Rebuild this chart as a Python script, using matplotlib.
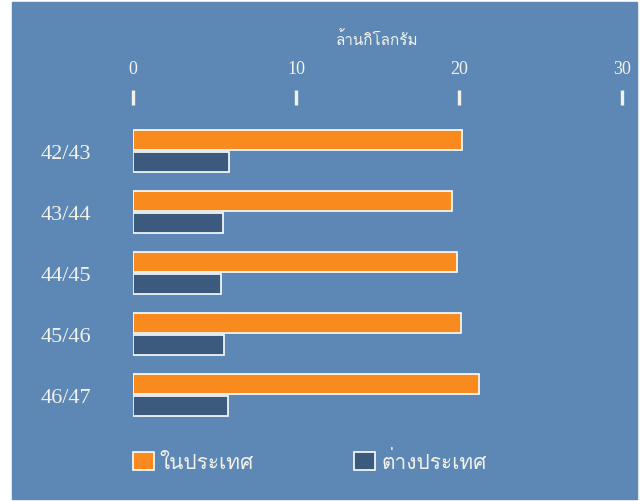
import matplotlib
matplotlib.use("Agg")
import matplotlib.pyplot as plt
from matplotlib import font_manager
from matplotlib.ft2font import FT2Font
from matplotlib.patches import Patch

# data (million kg)
years = ["42/43", "43/44", "44/45", "45/46", "46/47"]
domestic = [20.2, 19.6, 19.9, 20.1, 21.2]
foreign = [5.9, 5.5, 5.4, 5.6, 5.8]
x_ticks = [0, 10, 20, 30]

unit_label = "ล้านกิโลกรัม"
legend_labels = ["ในประเทศ", "ต่างประเทศ"]

bg = "#5d88b6"
orange = "#f98a1d"
navy = "#3c5a7e"
txt = "#f2f2ea"


def find_thai_font():
    names = []
    for f in font_manager.fontManager.ttflist:
        try:
            if FT2Font(f.fname).get_char_index(ord("ก")) != 0:
                names.append(f.name)
        except Exception:
            pass
    return names[0] if names else "DejaVu Sans"


thai = find_thai_font()
plt.rcParams["font.family"] = [thai, "DejaVu Sans"]

fig = plt.figure(figsize=(6.4, 5.02), dpi=100, facecolor="white")
# blue panel
fig.patches.append(plt.Rectangle((12 / 640, 2 / 502), 625 / 640, 497 / 502,
                                 transform=fig.transFigure, color=bg, zorder=-5))

ax = fig.add_axes([133 / 640, 1 - 440 / 502, 489 / 640, 334 / 502])
ax.set_facecolor("none")
ax.set_zorder(2)

h = 0.33
ypos = list(range(len(years)))
ax.barh([y - h / 2 - 0.015 for y in ypos], domestic, height=h, color=orange,
        edgecolor="white", linewidth=1.2)
ax.barh([y + h / 2 + 0.015 for y in ypos], foreign, height=h, color=navy,
        edgecolor="white", linewidth=1.2)

ax.set_xlim(0, 30)
ax.set_ylim((440 - 152) / 61, (106 - 152) / 61)
for s in ax.spines.values():
    s.set_visible(False)

ax.xaxis.tick_top()
ax.set_xticks(x_ticks)
ax.set_xticklabels([str(t) for t in x_ticks], family="Liberation Serif",
                   fontsize=13, color=txt)
ax.tick_params(axis="x", direction="out", length=11, width=2.4, color=txt,
               pad=9)
ax.set_xlabel(unit_label, fontsize=11, color=txt, labelpad=12)
ax.xaxis.set_label_position("top")

ax.set_yticks(ypos)
ax.set_yticklabels(years, family="Liberation Serif", fontsize=16, color=txt)
ax.tick_params(axis="y", length=0, pad=30)

handles = [Patch(facecolor=orange, edgecolor="white", linewidth=1.2),
           Patch(facecolor=navy, edgecolor="white", linewidth=1.2)]
leg = fig.legend(handles, legend_labels, loc="center left",
                 bbox_to_anchor=(114 / 640, 1 - 462 / 502), ncol=2,
                 frameon=False, handlelength=1.0, handleheight=1.0,
                 handletextpad=0.3, columnspacing=4.8, fontsize=15)
for t in leg.get_texts():
    t.set_color(txt)

fig.savefig("out.png", dpi=100, facecolor="white")
